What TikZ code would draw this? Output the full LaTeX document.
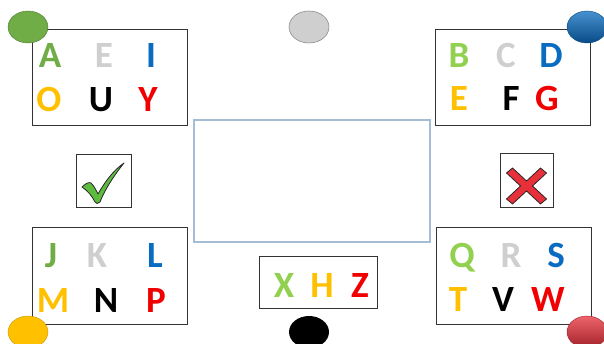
\documentclass[tikz,border=0pt]{standalone}
\usepackage{fontspec}
\setmainfont{Carlito}
\usetikzlibrary{shapes.geometric}
\definecolor{cgreen}{HTML}{70AD47}
\definecolor{clime}{HTML}{92D050}
\definecolor{cgray}{HTML}{CFCFCF}
\definecolor{cblue}{HTML}{0A6CC0}
\definecolor{cyellow}{HTML}{FFC000}
\definecolor{cred}{HTML}{F00000}
\definecolor{cframe}{HTML}{A4BCD6}
\definecolor{ccheck}{HTML}{5DBB3F}
\definecolor{ccross}{HTML}{E8303A}
\tikzset{
  frame/.style={draw=black!80, line width=1pt, rectangle, inner sep=0pt},
  letter/.style={font=\fontsize{37}{37}\selectfont\bfseries, inner sep=0pt, anchor=base},
  dot/.style={ellipse, minimum width=40pt, minimum height=32pt, inner sep=0pt},
}
\newcommand\ltr[4]{%
  \node[letter, text=#3] (#1) at (#2) {#4};}
\begin{document}
\begin{tikzpicture}[x=1pt,y=-1pt]
\useasboundingbox (0,0) rectangle (604,344);
\fill[white] (0,0) rectangle (604,344);
% frames
\node[frame, minimum width=155pt, minimum height=96pt] (tl) at (109.5,78) {};
\node[frame, minimum width=155pt, minimum height=96pt] (tr) at (512.5,78) {};
\node[frame, minimum width=155pt, minimum height=96pt] (bl) at (109.5,276) {};
\node[frame, minimum width=155pt, minimum height=96pt] (br) at (513.5,276) {};
\node[frame, minimum width=118pt, minimum height=51pt] (mid) at (318,282.5) {};
\node[draw=cframe, line width=1.2pt, rectangle, minimum width=236pt, minimum height=122pt, inner sep=0pt] (center) at (312,181) {};
\node[frame, minimum width=55pt, minimum height=53pt] (okbox) at (103.5,181.5) {};
\node[frame, minimum width=53pt, minimum height=54pt] (nobox) at (526.5,181) {};
% dots
\node[dot, fill=cgreen, draw=cgreen!70!black, line width=0.4pt] (dgreen) at (28,27) {};
\node[dot, fill=cgray, draw=black!45, line width=0.6pt] (dgray) at (309,27) {};
\node[dot, top color=cblue!75!white, bottom color=cblue!70!black, draw=cblue!70!black, line width=0.4pt] (dblue) at (587,27) {};
\node[dot, fill=cyellow, draw=cyellow!80!black, line width=0.4pt] (dyellow) at (28,332) {};
\node[dot, fill=black] (dblack) at (309,332) {};
\node[dot, top color=ccross!75!white, bottom color=ccross!70!black, draw=ccross!70!black, line width=0.4pt] (dred) at (587,332) {};
% top-left letters
\ltr{A}{50,68}{cgreen}{A}
\ltr{E1}{104,68}{cgray}{E}
\ltr{I}{151,68}{cblue}{I}
\ltr{O}{49,112}{cyellow}{O}
\ltr{U}{101,112}{black}{U}
\ltr{Y}{148,112}{cred}{Y}
% top-right letters
\ltr{B}{459,68}{clime}{B}
\ltr{C}{506,68}{cgray}{C}
\ltr{D}{551,68}{cblue}{D}
\ltr{E2}{459,111}{cyellow}{E}
\ltr{F}{511,111}{black}{F}
\ltr{G}{547,111}{cred}{G}
% bottom-left letters
\ltr{J}{51,267}{cgreen}{J}
\ltr{K}{97,267}{cgray}{K}
\ltr{L}{155,267}{cblue}{L}
\ltr{M}{53,312}{cyellow}{M}
\ltr{N}{106,312}{black}{N}
\ltr{P}{156,312}{cred}{P}
% bottom-right letters
\ltr{Q}{462,267}{clime}{Q}
\ltr{R}{511,267}{cgray}{R}
\ltr{S}{556,267}{cblue}{S}
\ltr{T}{458,311}{cyellow}{T}
\ltr{V}{503,311}{black}{V}
\ltr{W}{548,311}{cred}{W}
% middle letters
\ltr{X}{284,297}{clime}{X}
\ltr{H}{322,297}{cyellow}{H}
\ltr{Z}{360,297}{cred}{Z}
% check mark
\fill[ccheck, draw=black!85, line width=0.8pt, line join=round]
  (82,187) .. controls (86,183) and (89,182) .. (91,183)
  .. controls (94,186) and (96,190) .. (98,194)
  .. controls (106,180) and (114,170) .. (124,163)
  .. controls (116,173) and (106,187) .. (100,202)
  .. controls (98,204) and (96,204) .. (95,202)
  .. controls (92,196) and (88,191) .. (82,187) -- cycle;
% cross
\begin{scope}[shift={(526.5,186)}]
\fill[ccross, draw=black!85, line width=0.8pt, line join=round]
  (-14,-18) -- (0,-5) -- (14,-18) -- (20,-13) -- (6,0) -- (20,13) -- (14,18)
  -- (0,5) -- (-14,18) -- (-20,13) -- (-6,0) -- (-20,-13) -- cycle;
\end{scope}
\end{tikzpicture}
\end{document}
